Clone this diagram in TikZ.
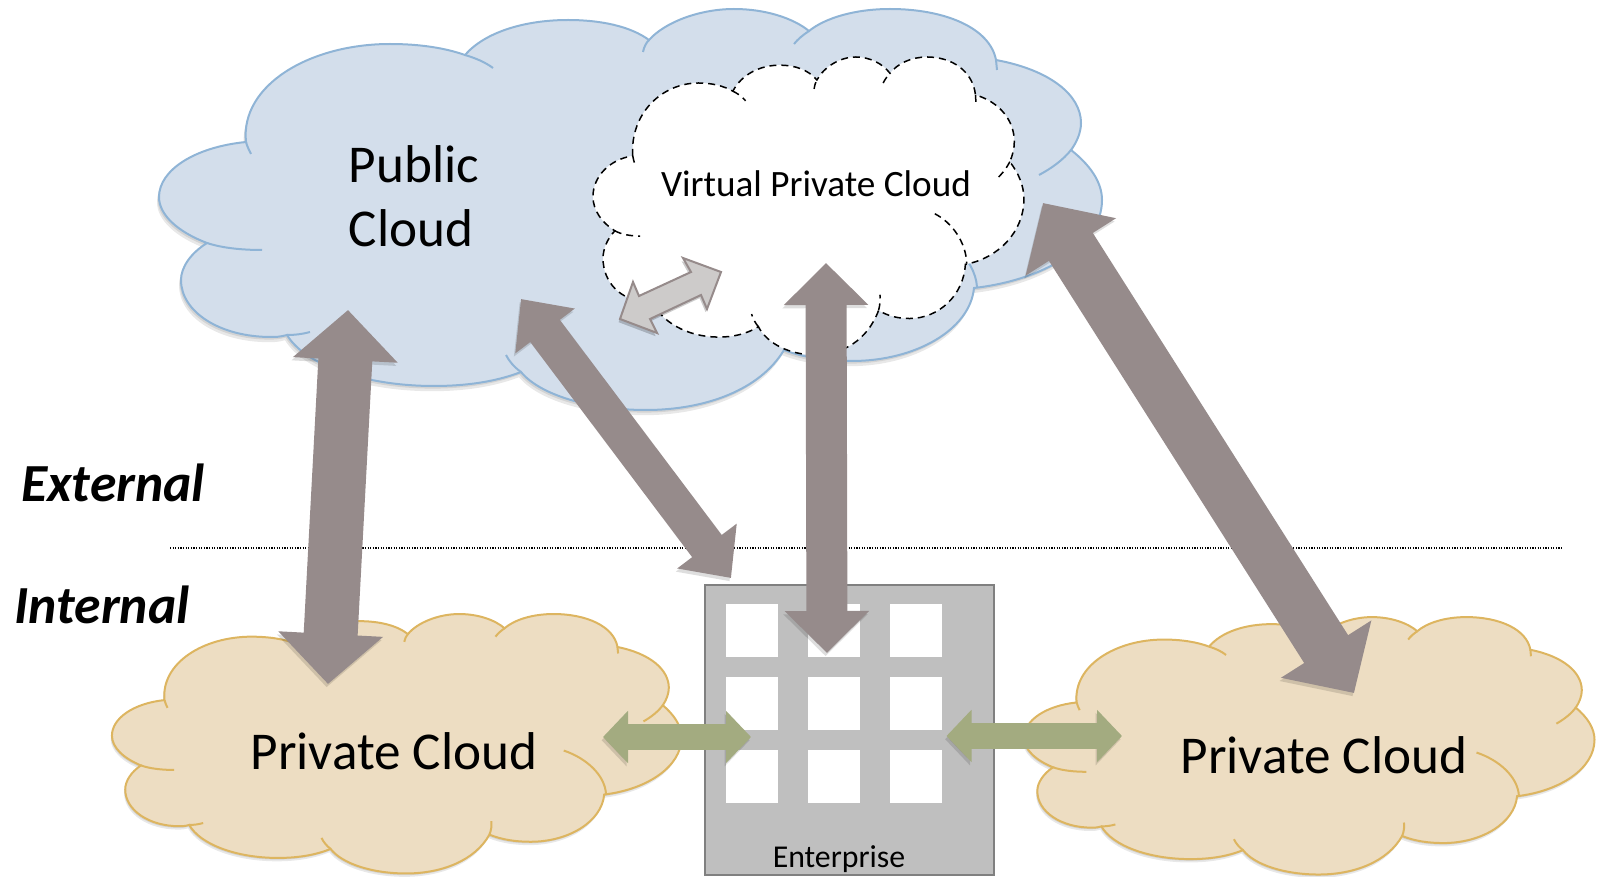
\documentclass[tikz,border=0pt]{standalone}
\usepackage{fontspec}
\setmainfont{Carlito}
\usetikzlibrary{arrows.meta}
\definecolor{publicfill}{HTML}{D3DEEB}
\definecolor{publicline}{HTML}{8FB4D6}
\definecolor{privatefill}{HTML}{EDDDC2}
\definecolor{privateline}{HTML}{DDB560}
\definecolor{arrowgray}{HTML}{968B8B}
\definecolor{arrowgreen}{HTML}{A3AB80}
\definecolor{buildinggray}{HTML}{BFBFBF}
\definecolor{smallgray}{HTML}{CDCBCA}
\newcommand{\cloudoutline}{(246,142) .. controls (240,85) and (310,44) .. (390,44)
 .. controls (420,44) and (445,48) .. (465,55)
 .. controls (485,32) and (525,20) .. (568,20) .. controls (600,20) and (630,26) .. (649,40)
 .. controls (665,22) and (700,9) .. (734,9) .. controls (765,9) and (793,18) .. (809,31)
 .. controls (825,18) and (855,9) .. (890,9) .. controls (945,9) and (990,28) .. (996,60)
 .. controls (1050,70) and (1081,95) .. (1081,123) .. controls (1081,132) and (1077,142) .. (1071,150)
 .. controls (1090,165) and (1102,182) .. (1102,200) .. controls (1102,245) and (1045,280) .. (974,288)
 .. controls (970,330) and (915,361) .. (852,361) .. controls (828,361) and (805,358) .. (784,350)
 .. controls (760,390) and (705,410) .. (646,410) .. controls (590,410) and (540,395) .. (521,372)
 .. controls (495,382) and (465,386) .. (434,386) .. controls (365,386) and (305,365) .. (287,335)
 .. controls (280,337) and (275,337) .. (271,337) .. controls (220,337) and (181,312) .. (181,280)
 .. controls (181,267) and (191,253) .. (207,243)
 .. controls (178,232) and (159,215) .. (159,197) .. controls (159,170) and (195,147) .. (246,142) -- cycle}
\newcommand{\cloudtails}{(465,55) .. controls (475,58) and (485,62) .. (493,68)
 (643,52) .. controls (644,47) and (646,43) .. (649,40)
 (794,44) .. controls (798,39) and (803,35) .. (809,31)
 (996,60) -- (997,70)
 (1071,150) .. controls (1063,160) and (1052,168) .. (1039,175)
 (907,220) .. controls (945,232) and (975,258) .. (977,287)
 (784,350) .. controls (787,343) and (788,336) .. (787,329)
 (521,372) .. controls (514,367) and (509,361) .. (506,355)
 (287,335) .. controls (295,335) and (303,334) .. (310,332)
 (207,243) .. controls (222,248) and (242,250) .. (262,250)
 (246,142) .. controls (247,146) and (249,150) .. (251,154)}
\tikzset{
  fatarrow/.style n args={3}{line width=#1,{Triangle[length=#2,width=#3]}-{Triangle[length=#2,width=#3]},
    preaction={draw=black,opacity=0.13,transform canvas={xshift=-0.7pt,yshift=-1.6pt}}},
  cloudshadow/.style={fill=black,opacity=0.09},
  windowbox/.style={fill=white},
  biglabel/.style={font=\fontsize{26.6}{32}\selectfont,inner sep=0pt},
  sidelabel/.style={font=\fontsize{26.8}{32}\selectfont\bfseries\itshape,inner sep=0pt}
}
\begin{document}
\begin{tikzpicture}[x=0.5pt,y=-0.5pt]
\useasboundingbox (0,0) rectangle (1601,877);
% public cloud
\begin{scope}
\fill[cloudshadow] [xshift=-0.7pt,yshift=-1.3pt] \cloudoutline;
\fill[cloudshadow] [xshift=-1pt,yshift=-2.6pt] \cloudoutline;
\draw[publicline,fill=publicfill,line width=1pt] \cloudoutline;
\draw[publicline,line width=1pt] \cloudtails;
\end{scope}
\begin{scope}[shift={(520.3,50.3)},xscale=0.457,yscale=0.743]
\draw[black,fill=white,line width=0.75pt,dash pattern=on 3.5pt off 2.5pt] \cloudoutline;
\draw[black,line width=0.75pt,dash pattern=on 3.5pt off 2.5pt] \cloudtails;
\end{scope}
\node[biglabel,align=left] (publiclabel) at (414,196) {Public\\Cloud};
\node[font=\fontsize{18.6}{22}\selectfont,inner sep=0pt] (vpclabel) at (816,184) {Virtual Private Cloud};
% external and internal
\node[sidelabel] (externallabel) at (113,483) {External};
\node[sidelabel] (internallabel) at (102,605) {Internal};
\coordinate (lineleft) at (170,548);
\coordinate (lineright) at (1563,548);
\draw[black,line width=0.7pt,dash pattern=on 0.6pt off 0.7pt] (lineleft) -- (lineright);
% enterprise
\draw[fill=buildinggray,draw=gray,line width=1pt] (705,585) rectangle (993.5,875);
\foreach \wx in {726,808,890}
  \foreach \wy in {604,677,750}
    \fill[windowbox] (\wx,\wy) rectangle ++(52,53);
\node[font=\fontsize{15.9}{19}\selectfont,inner sep=0pt] (enterpriselabel) at (839,859) {Enterprise};
% private clouds
\begin{scope}[shift={(15.9,608.2)},xscale=0.604,yscale=0.647]
\fill[cloudshadow] [xshift=-0.7pt,yshift=-1.3pt] \cloudoutline;
\fill[cloudshadow] [xshift=-1pt,yshift=-2.6pt] \cloudoutline;
\draw[privateline,fill=privatefill,line width=1pt] \cloudoutline;
\draw[privateline,line width=1pt] \cloudtails;
\end{scope}
\begin{scope}[shift={(927.8,611.3)},xscale=0.605,yscale=0.642]
\fill[cloudshadow] [xshift=-0.7pt,yshift=-1.3pt] \cloudoutline;
\fill[cloudshadow] [xshift=-1pt,yshift=-2.6pt] \cloudoutline;
\draw[privateline,fill=privatefill,line width=1pt] \cloudoutline;
\draw[privateline,line width=1pt] \cloudtails;
\end{scope}
\node[biglabel] (leftprivatelabel) at (394,751) {Private Cloud};
\node[biglabel] (rightprivatelabel) at (1324,755) {Private Cloud};
% arrows
\coordinate (publicleft) at (348,310);
\coordinate (privateleft) at (328,684);
\coordinate (publicmid) at (521,299);
\coordinate (enterprisetop) at (731,578);
\coordinate (vpcbottom) at (826,263);
\coordinate (enterprisewin) at (827,653);
\coordinate (publicright) at (1043,203);
\coordinate (privateright) at (1354,693);
\coordinate (greenaleft) at (603,737);
\coordinate (greenaright) at (751,737);
\coordinate (greenbleft) at (946.5,736);
\coordinate (greenbright) at (1122,736);
\draw[arrowgray,fatarrow={27pt}{25pt}{51pt}] (publicleft) -- (privateleft);
\draw[arrowgray,fatarrow={18.5pt}{20pt}{36pt}] (publicmid) -- (enterprisetop);
\draw[arrowgray,fatarrow={20.5pt}{21pt}{41pt}] (vpcbottom) -- (enterprisewin);
\draw[arrowgray,fatarrow={26pt}{26pt}{52pt}] (publicright) -- (privateright);
\draw[arrowgreen,fatarrow={13pt}{12.5pt}{25.5pt}] (greenaleft) -- (greenaright);
\draw[arrowgreen,fatarrow={13pt}{12.5pt}{25.5pt}] (greenbleft) -- (greenbright);
\fill[black,opacity=0.2] [xshift=-0.7pt,yshift=-1.6pt] (620,319) -- (633,282) -- (639,296) -- (691,272) -- (683,258) -- (721,272) -- (707,309) -- (701,295) -- (650,319) -- (657,333) -- cycle;
\draw[draw=arrowgray,fill=smallgray,line width=1pt,line join=miter] (620,319) -- (633,282) -- (639,296) -- (691,272) -- (683,258) -- (721,272) -- (707,309) -- (701,295) -- (650,319) -- (657,333) -- cycle;
\end{tikzpicture}
\end{document}
